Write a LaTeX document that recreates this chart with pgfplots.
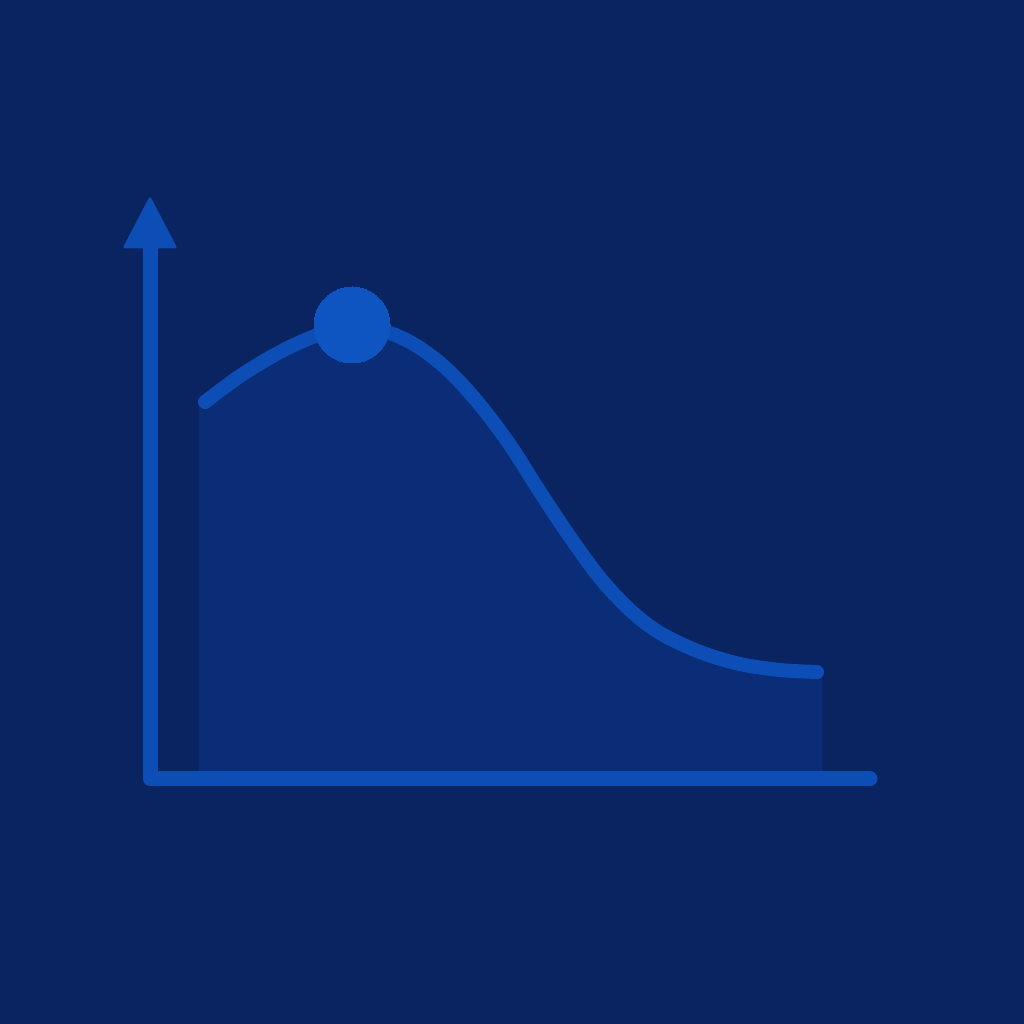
\documentclass[border=0pt]{standalone}
\usepackage{pgfplots}
\pgfplotsset{compat=1.18}
\usepgfplotslibrary{fillbetween}
\definecolor{bg}{HTML}{0A2462}
\definecolor{ln}{HTML}{0C4EB6}
\definecolor{dot}{HTML}{0E55C2}
\definecolor{area}{HTML}{0B2D77}
\begin{document}
\begin{tikzpicture}
\begin{axis}[
  width=1024pt, height=1024pt, scale only axis,
  xmin=0, xmax=1024, ymin=0, ymax=1024,
  axis lines=none, ticks=none,
  axis background/.style={fill=bg},
]
% curve (y = 1024 - pixel row)
\addplot[name path=curve, draw=none, smooth, tension=0.55] coordinates {
(199,617) (205,622) (240,648) (280,672) (315,688) (352,700) (390,691) (420,676)
(450,652) (480,619) (510,579) (540,532) (570,487) (600,446) (630,414)
(660,391) (700,372) (740,360) (780,354) (817,352) (822,352)
};
\addplot[name path=base, draw=none] coordinates {(199,245) (822,245)};
\addplot[area, draw=none] fill between[of=curve and base];
\addplot[draw=ln, line width=14pt, line cap=round, smooth, tension=0.55] coordinates {
(205,622) (240,648) (280,672) (315,688) (352,700) (390,691) (420,676)
(450,652) (480,619) (510,579) (540,532) (570,487) (600,446) (630,414)
(660,391) (700,372) (740,360) (780,354) (817,352)
};
% axes
\addplot[draw=ln, line width=15pt, line cap=round, line join=round] coordinates {(150,780) (150,245) (870,245)};
\addplot[fill=ln, draw=ln, line width=3pt, line join=round] coordinates {(150,825) (125,777) (175,777)} -- cycle;
% peak marker
\addplot[only marks, mark=*, mark size=38pt, mark options={fill=dot, draw=dot, line width=0pt}] coordinates {(352,699)};
\end{axis}
\end{tikzpicture}
\end{document}
